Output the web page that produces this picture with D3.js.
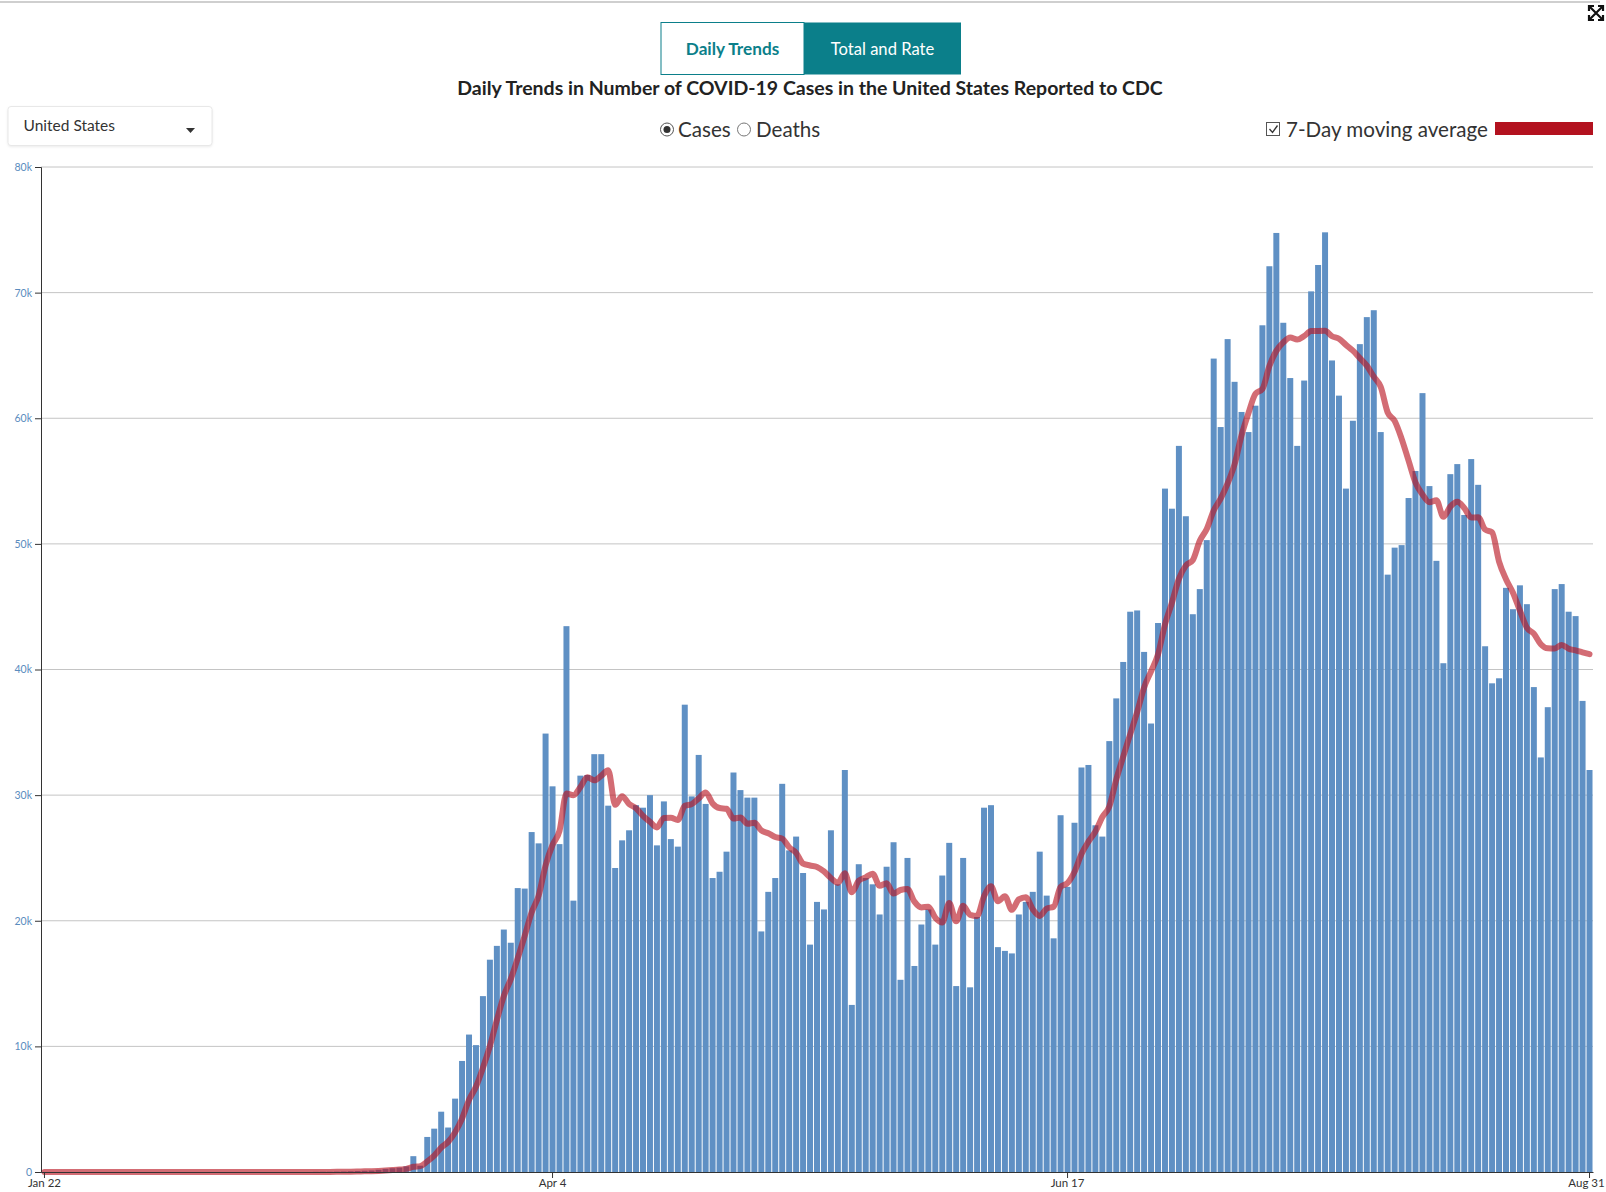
<!DOCTYPE html>
<html>
<head>
<meta charset="utf-8">
<script src="https://cdn.jsdelivr.net/npm/d3@7"></script>
<style>
  body { margin: 0; background: #fff; }
  text { font-family: Lato, "Open Sans", sans-serif; }
</style>
</head>
<body>
<div id="chart"></div>
<script>
// daily cases reported, Jan 22 .. Aug 31 (one value per day)
var startDate = new Date(2020, 0, 22)
var endDate = new Date(2020, 8, 1)

var cases = [
  0, 0, 0, 0, 0, 0, 0, 0, 0, 0,
  0, 0, 0, 0, 0, 0, 0, 0, 0, 0,
  0, 0, 0, 0, 0, 0, 0, 0, 0, 0,
  0, 0, 0, 0, 0, 0, 0, 0, 0, 10,
  20, 20, 30, 40, 60, 80, 100, 120, 180, 250,
  300, 350, 450, 1260, 500, 2790, 3450, 4800, 3540, 5840,
  8840, 10940, 10100, 14000, 16900, 18000, 19300, 18250, 22600, 22560,
  27060, 26160, 34900, 30700, 26100, 43450, 21600, 31550, 31600, 33260,
  33260, 29160, 24200, 26400, 27200, 29200, 29000, 30000, 26000, 29500,
  26500, 25900, 37200, 29900, 33200, 29300, 23400, 23900, 25500, 31800,
  30400, 29800, 29800, 19150, 22300, 23400, 30900, 25600, 26700, 23800,
  18100, 21500, 20900, 27200, 22900, 32000, 13300, 24500, 23400, 22900,
  20500, 24300, 26250, 15300, 25000, 16400, 19700, 20900, 18100, 23600,
  26200, 14800, 25000, 14700, 20300, 29000, 29200, 17900, 17600, 17400,
  20500, 21500, 22300, 25500, 22000, 18600, 28400, 22700, 27800, 32200,
  32400, 27600, 26700, 34300, 37700, 40600, 44600, 44700, 41400, 35700,
  43700, 54400, 52800, 57800, 52200, 44400, 46400, 50300, 64750, 59300,
  66300, 62900, 60500, 58900, 61000, 67400, 72100, 74750, 67600, 63200,
  57800, 63000, 70100, 72200, 74800, 64600, 61800, 54400, 59800, 65900,
  68050, 68600, 58900, 47550, 49700, 49900, 53650, 55800, 62000, 54600,
  48650, 40500, 55550, 56350, 52300, 56750, 54700, 41850, 38900, 39300,
  46500, 44800, 46700, 45200, 38600, 33000, 37000, 46400, 46800, 44600,
  44250, 37500, 32000
]

var xTickLabels = ["Jan 22", "Apr 4", "Jun 17", "Aug 31"]
var yTickValues = [0, 10000, 20000, 30000, 40000, 50000, 60000, 70000, 80000]

var fmtDay = d3.timeFormat("%b %-d")
var dayLabels = d3.timeDay.range(startDate, endDate).map(fmtDay)

// 7-day moving average (trailing window, same as the chart's own line)
var avg7 = cases.map(function(v, i) {
    return d3.mean(cases.slice(Math.max(0, i - 6), i + 1))
})

var W = 1606, H = 1192
var plotLeft = 41, plotRight = 1593, plotTop = 167, plotBottom = 1172

var svg = d3.select("#chart").append("svg")
    .attr("width", W).attr("height", H)

// ---------- header ----------
svg.append("line")
    .attr("x1", 0).attr("x2", 1600).attr("y1", 2).attr("y2", 2)
    .attr("stroke", "#cfcfcf").attr("stroke-width", 2)

// fullscreen icon
var fs = svg.append("g").attr("transform", "translate(1596,13)")
    .attr("stroke", "#111").attr("stroke-width", 2.2).attr("fill", "none")
fs.append("path").attr("d", "M-6,-6 L6,6 M6,-6 L-6,6")
fs.append("path").attr("d", "M-7,-2 V-7 H-2 M2,-7 H7 V-2 M7,2 V7 H2 M-2,7 H-7 V2")

var teal = "#0b7f8a"
svg.append("rect").attr("x", 661).attr("y", 22.5).attr("width", 143).attr("height", 52)
    .attr("fill", "#fff").attr("stroke", teal).attr("stroke-width", 1)
svg.append("rect").attr("x", 804).attr("y", 22.5).attr("width", 157).attr("height", 52)
    .attr("fill", teal)
svg.append("text").attr("x", 732.5).attr("y", 54.5).attr("text-anchor", "middle")
    .attr("font-size", 17.2).attr("font-weight", 700).attr("fill", teal).text("Daily Trends")
svg.append("text").attr("x", 882.5).attr("y", 54.5).attr("text-anchor", "middle")
    .attr("font-size", 16.6).attr("fill", "#fff").text("Total and Rate")

svg.append("text").attr("x", 810).attr("y", 95).attr("text-anchor", "middle")
    .attr("font-size", 19.5).attr("font-weight", 700).attr("fill", "#222")
    .text("Daily Trends in Number of COVID-19 Cases in the United States Reported to CDC")

// dropdown
svg.append("rect").attr("x", 8).attr("y", 106.5).attr("width", 204).attr("height", 39)
    .attr("rx", 3).attr("fill", "#fff").attr("stroke", "#e8e8e8")
    .style("filter", "drop-shadow(0px 1px 1px rgba(0,0,0,0.08))")
svg.append("text").attr("x", 23.5).attr("y", 131).attr("font-size", 15.5)
    .attr("fill", "#333").text("United States")
svg.append("path").attr("d", "M186,128 h9 l-4.5,5 z").attr("fill", "#333")

// radio buttons
svg.append("circle").attr("cx", 667).attr("cy", 129.5).attr("r", 6.5)
    .attr("fill", "#fff").attr("stroke", "#555")
svg.append("circle").attr("cx", 667).attr("cy", 129.5).attr("r", 3.5).attr("fill", "#333")
svg.append("text").attr("x", 678).attr("y", 136.5).attr("font-size", 20.6)
    .attr("fill", "#333").text("Cases")
svg.append("circle").attr("cx", 744).attr("cy", 129.5).attr("r", 6.5)
    .attr("fill", "#fff").attr("stroke", "#777")
svg.append("text").attr("x", 756).attr("y", 136.5).attr("font-size", 20.6)
    .attr("fill", "#333").text("Deaths")

// legend checkbox
svg.append("rect").attr("x", 1266.5).attr("y", 122.5).attr("width", 13).attr("height", 13)
    .attr("fill", "#fff").attr("stroke", "#555")
svg.append("path").attr("d", "M1269.5,129 l3,3.5 l5,-7").attr("fill", "none")
    .attr("stroke", "#333").attr("stroke-width", 1.3)
svg.append("text").attr("x", 1286).attr("y", 136.5).attr("font-size", 20.6)
    .attr("fill", "#333").text("7-Day moving average")
svg.append("rect").attr("x", 1495).attr("y", 122).attr("width", 98).attr("height", 13)
    .attr("fill", "#b3121f")

// ---------- chart ----------
var x = d3.scaleBand()
    .domain(dayLabels)
    .range([plotLeft, plotRight])
    .paddingInner(0.14)
    .paddingOuter(0.07)

var y = d3.scaleLinear()
    .domain([0, 80000])
    .range([plotBottom, plotTop])

// gridlines
svg.append("g").selectAll("line")
    .data(yTickValues.slice(1))
    .enter().append("line")
    .attr("x1", plotLeft).attr("x2", plotRight)
    .attr("y1", d => y(d)).attr("y2", d => y(d))
    .attr("stroke", "#c4c4c4").attr("stroke-width", 1)

svg.append("g").selectAll("rect")
    .data(cases)
    .enter().append("rect")
    .attr("x", (d, i) => x(dayLabels[i]))
    .attr("width", x.bandwidth())
    .attr("y", d => y(d))
    .attr("height", d => plotBottom - y(d))
    .attr("fill", "#5f90c4")

var line = d3.line()
    .x((d, i) => x(dayLabels[i]) + x.bandwidth() / 2)
    .y(d => y(d))
    .curve(d3.curveMonotoneX)

svg.append("path")
    .datum(avg7)
    .attr("d", line)
    .attr("fill", "none")
    .attr("stroke", "#b8121f")
    .attr("stroke-opacity", 0.62)
    .attr("stroke-width", 6)
    .attr("stroke-linejoin", "round")
    .attr("stroke-linecap", "round")

// axes
var yAxis = svg.append("g")
    .attr("transform", "translate(" + plotLeft + ",0)")
    .call(d3.axisLeft(y).tickValues(yTickValues).tickSize(6)
        .tickFormat(d => d === 0 ? "0" : d / 1000 + "k"))
yAxis.select(".domain").attr("stroke", "#333")
yAxis.selectAll(".tick line").attr("stroke", "#333")
yAxis.selectAll(".tick text").attr("fill", "#5a8cbe").attr("font-size", 10.5)
    .attr("font-family", "'Liberation Sans', Arial, sans-serif").attr("x", -9)

var xAxis = svg.append("g")
    .attr("transform", "translate(0," + plotBottom + ")")
    .call(d3.axisBottom(x).tickValues(xTickLabels).tickSize(6).tickSizeOuter(0))
xAxis.select(".domain").attr("stroke", "#333")
xAxis.selectAll(".tick line").attr("stroke", "#333")
xAxis.selectAll(".tick text").attr("fill", "#333").attr("font-size", 11.5)
    .attr("font-family", "'Liberation Sans', Arial, sans-serif").attr("dy", "0.55em")
    .attr("dx", d => d === "Aug 31" ? -3 : 0)
</script>
</body>
</html>
